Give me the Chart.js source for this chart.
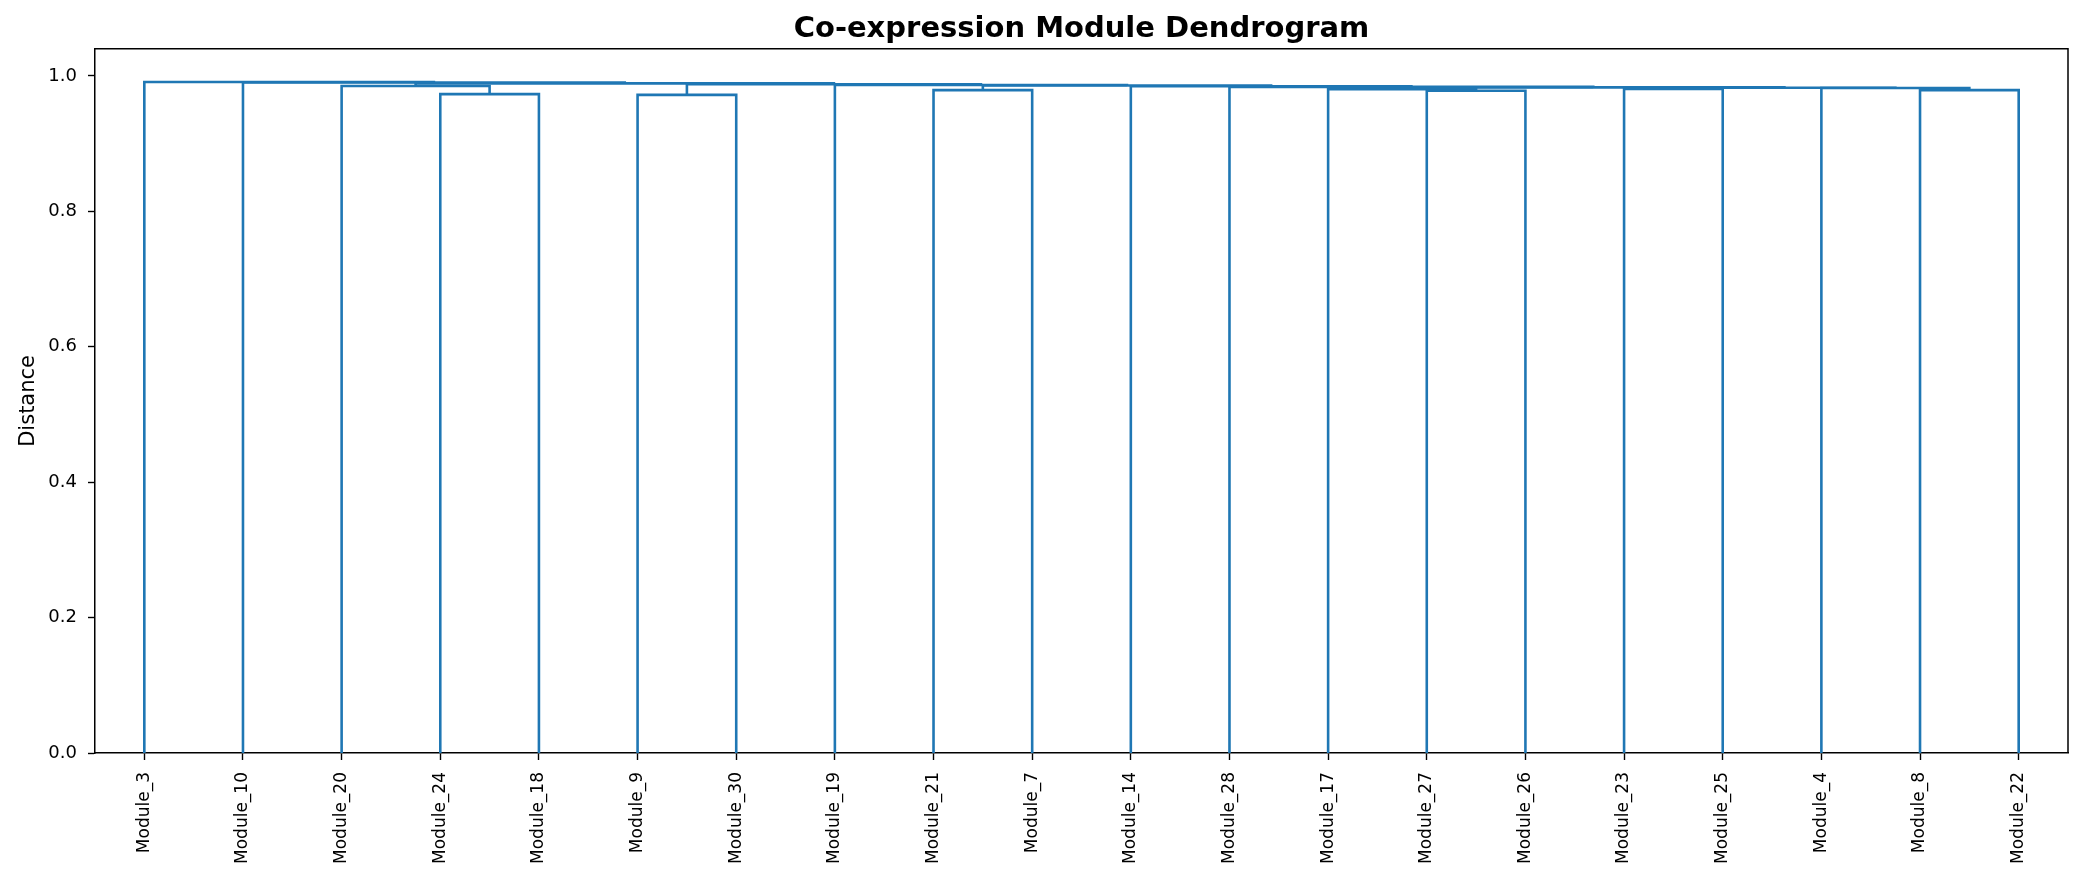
<!DOCTYPE html>
<html>
<head>
<meta charset="utf-8">
<script src="https://cdn.jsdelivr.net/npm/chart.js@4.4.1/dist/chart.umd.min.js"></script>
<style>
  html, body { margin: 0; padding: 0; background: #fff; }
  canvas { display: block; }
</style>
</head>
<body>
<canvas id="myChart" width="2082" height="884"></canvas>
<script>
// leaves, in the order the dendrogram draws them
var leafLabels = ["Module_3", "Module_10", "Module_20", "Module_24", "Module_18",
                  "Module_9", "Module_30", "Module_19", "Module_21", "Module_7",
                  "Module_14", "Module_28", "Module_17", "Module_27", "Module_26",
                  "Module_23", "Module_25", "Module_4", "Module_8", "Module_22"];

// linkage: ids 0-19 are leaves (display order), merge k creates id 20+k
var mergeLeft   = [3, 5, 8, 13, 18, 2, 17, 15, 27, 12, 29, 11, 10, 22, 7, 21, 25, 1, 0];
var mergeRight  = [4, 6, 9, 14, 19, 20, 24, 16, 26, 23, 28, 30, 31, 32, 33, 34, 35, 36, 37];
var mergeHeight = [0.973, 0.972, 0.979, 0.978, 0.979, 0.985, 0.982, 0.9808, 0.9825, 0.9805,
                   0.983, 0.9838, 0.9848, 0.9858, 0.9866, 0.9877, 0.989, 0.9903, 0.991];

var yTicks = [0.0, 0.2, 0.4, 0.6, 0.8, 1.0];

// scipy style leaf positions 5, 15, 25 ...
var nodeX = [], nodeY = [];
for (var i = 0; i < leafLabels.length; i++) {
    nodeX.push(5 + 10 * i);
    nodeY.push(0);
}
var datasets = [];
for (var k = 0; k < mergeLeft.length; k++) {
    var a = mergeLeft[k], b = mergeRight[k], h = mergeHeight[k];
    datasets.push({
        data: [{x: nodeX[a], y: nodeY[a]}, {x: nodeX[a], y: h},
               {x: nodeX[b], y: h}, {x: nodeX[b], y: nodeY[b]}],
        showLine: true,
        borderColor: '#1f77b4',
        borderWidth: 2.6,
        pointRadius: 0,
        fill: false
    });
    nodeX.push((nodeX[a] + nodeX[b]) / 2);
    nodeY.push(h);
}

// top and right spines, title centred over the plot area
var boxPlugin = {
    id: 'box',
    afterLayout: function(chart) {
        if (chart.titleBlock) {
            chart.titleBlock.left = chart.chartArea.left;
            chart.titleBlock.right = chart.chartArea.right;
            chart.titleBlock.width = chart.chartArea.right - chart.chartArea.left;
        }
    },
    afterDraw: function(chart) {
        var c = chart.ctx, ar = chart.chartArea;
        c.save();
        c.strokeStyle = '#000';
        c.lineWidth = 1.5;
        c.beginPath();
        c.moveTo(ar.left, ar.top);
        c.lineTo(ar.right, ar.top);
        c.lineTo(ar.right, ar.bottom);
        c.stroke();
        c.restore();
    }
};

var ctx = document.getElementById("myChart");
var myChart = new Chart(ctx, {
    type: 'scatter',
    data: { datasets: datasets },
    plugins: [boxPlugin],
    options: {
        responsive: false,
        animation: false,
        devicePixelRatio: 1,
        layout: { padding: { left: 0, right: 14, top: 0, bottom: 0 } },
        plugins: {
            legend: { display: false },
            tooltip: { enabled: false },
            title: {
                display: true,
                text: 'Co-expression Module Dendrogram',
                color: '#000',
                font: { family: 'DejaVu Sans', size: 29, weight: 'bold' },
                padding: { top: 12, bottom: 2 }
            }
        },
        scales: {
            x: {
                type: 'linear',
                min: 0,
                max: 200,
                afterBuildTicks: function(scale) {
                    scale.ticks = leafLabels.map(function(l, i) { return {value: 5 + 10 * i}; });
                },
                afterFit: function(scale) { scale.height = 131; },
                ticks: {
                    autoSkip: false,
                    minRotation: 90,
                    maxRotation: 90,
                    padding: 12,
                    color: '#000',
                    font: { family: 'DejaVu Sans', size: 17 },
                    callback: function(v) { return leafLabels[Math.round((v - 5) / 10)]; }
                },
                grid: { drawOnChartArea: false, drawTicks: true, tickLength: 7, tickColor: '#000', tickWidth: 1.4 },
                border: { display: true, color: '#000', width: 1.5 }
            },
            y: {
                min: 0,
                max: 1.04,
                afterBuildTicks: function(scale) {
                    scale.ticks = yTicks.map(function(v) { return {value: v}; });
                },
                afterFit: function(scale) { scale.width = 95; },
                ticks: {
                    padding: 11,
                    color: '#000',
                    font: { family: 'DejaVu Sans', size: 18 },
                    callback: function(v) { return v.toFixed(1); }
                },
                title: {
                    display: true,
                    text: 'Distance',
                    color: '#000',
                    font: { family: 'DejaVu Sans', size: 21 },
                    padding: { top: 16, bottom: 0 }
                },
                grid: { drawOnChartArea: false, drawTicks: true, tickLength: 7, tickColor: '#000', tickWidth: 1.4 },
                border: { display: true, color: '#000', width: 1.5 }
            }
        }
    }
});
</script>
</body>
</html>
